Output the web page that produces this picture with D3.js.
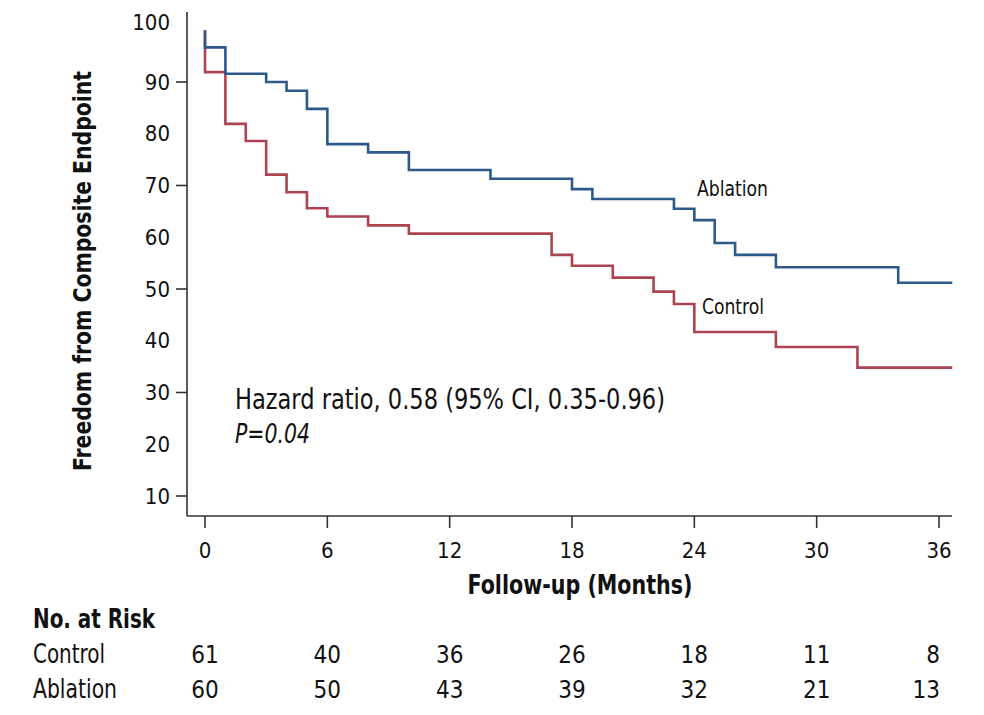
<!DOCTYPE html>
<html>
<head>
<meta charset="utf-8">
<script src="https://cdn.jsdelivr.net/npm/d3@7"></script>
<style>
  body { margin: 0; background: #fff; }
  svg text { font-family: "Liberation Sans Narrow", "DejaVu Sans Condensed", "Roboto", sans-serif; fill: #111; }
</style>
</head>
<body>
<svg id="chart" width="984" height="715"></svg>
<script>
// months at which each curve steps down, and the value right after the step
const controlTimes = [0, 1, 2, 3, 4, 5, 6, 8, 10, 17, 18, 20, 22, 23, 24, 28, 32]
const controlSurv = [91.9, 81.9, 78.6, 72.1, 68.7, 65.6, 64.0, 62.3, 60.7, 56.6, 54.5, 52.2, 49.5, 47.1, 41.7, 38.8, 34.8]
const ablationTimes = [0, 1, 3, 4, 5, 6, 8, 10, 14, 18, 19, 23, 24, 25, 26, 28, 34]
const ablationSurv = [96.7, 91.6, 90.0, 88.3, 84.8, 78.0, 76.4, 73.0, 71.3, 69.3, 67.4, 65.5, 63.3, 58.9, 56.6, 54.2, 51.2]
const lastMonth = 36.65

const xTicks = [0, 6, 12, 18, 24, 30, 36]
const yLabels = [10, 20, 30, 40, 50, 60, 70, 80, 90, 100]
const yTickMarks = [10, 30, 50, 70, 90]

const riskRows = ['Control', 'Ablation']
const controlRisk = [61, 40, 36, 26, 18, 11, 8]
const ablationRisk = [60, 50, 43, 39, 32, 21, 13]

const svg = d3.select('#chart')

const x = d3.scaleLinear().domain([0, 36]).range([205, 939])
const y = d3.scaleLinear().domain([10, 100]).range([496, 30.25])

const plotLeft = 187, plotRight = 952, plotTop = 12, plotBottom = 516

// axes lines
svg.append('line').attr('x1', plotLeft).attr('x2', plotLeft).attr('y1', plotTop).attr('y2', plotBottom)
  .attr('stroke', '#333').attr('stroke-width', 1.6)
svg.append('line').attr('x1', plotLeft).attr('x2', plotRight).attr('y1', plotBottom).attr('y2', plotBottom)
  .attr('stroke', '#333').attr('stroke-width', 1.6)

// y ticks + labels
svg.selectAll('.ytick').data(yTickMarks).join('line')
  .attr('x1', plotLeft - 11).attr('x2', plotLeft)
  .attr('y1', d => y(d)).attr('y2', d => y(d))
  .attr('stroke', '#333').attr('stroke-width', 1.6)

svg.selectAll('.ylab').data(yLabels).join('text')
  .attr('x', 170)
  .attr('y', d => y(d) - (d === 100 ? 8 : 0))
  .attr('dy', '0.35em')
  .attr('text-anchor', 'end')
  .attr('font-size', 22)
  .text(d => d)

// x ticks + labels
svg.selectAll('.xtick').data(xTicks).join('line')
  .attr('x1', d => x(d)).attr('x2', d => x(d))
  .attr('y1', plotBottom).attr('y2', plotBottom + 12)
  .attr('stroke', '#333').attr('stroke-width', 1.6)

svg.selectAll('.xlab').data(xTicks).join('text')
  .attr('x', d => x(d))
  .attr('y', 550)
  .attr('dy', '0.35em')
  .attr('text-anchor', 'middle')
  .attr('font-size', 22)
  .text(d => d)

// axis titles
svg.append('text')
  .attr('transform', 'translate(82,271) rotate(-90)')
  .attr('text-anchor', 'middle').attr('dy', '0.35em')
  .attr('font-size', 25).attr('font-weight', 'bold')
  .attr('textLength', 400).attr('lengthAdjust', 'spacingAndGlyphs')
  .text('Freedom from Composite Endpoint')

svg.append('text')
  .attr('x', 580).attr('y', 585).attr('dy', '0.35em')
  .attr('text-anchor', 'middle')
  .attr('font-size', 26).attr('font-weight', 'bold')
  .attr('textLength', 225).attr('lengthAdjust', 'spacingAndGlyphs')
  .text('Follow-up (Months)')

// KM curves
function steps (times, surv) {
  const pts = [{ t: 0, s: 100 }]
  times.forEach((t, i) => pts.push({ t: t, s: surv[i] }))
  pts.push({ t: lastMonth, s: surv[surv.length - 1] })
  return pts
}

const line = d3.line().x(d => x(d.t)).y(d => y(d.s)).curve(d3.curveStepAfter)

svg.append('path').datum(steps(controlTimes, controlSurv))
  .attr('d', line).attr('fill', 'none')
  .attr('stroke', '#ab4450').attr('stroke-width', 2.6)

svg.append('path').datum(steps(ablationTimes, ablationSurv))
  .attr('d', line).attr('fill', 'none')
  .attr('stroke', '#2d5a88').attr('stroke-width', 2.6)

// curve labels
svg.append('text').attr('x', 697).attr('y', 196)
  .attr('font-size', 22).attr('textLength', 71).attr('lengthAdjust', 'spacingAndGlyphs')
  .text('Ablation')
svg.append('text').attr('x', 702).attr('y', 314)
  .attr('font-size', 22).attr('textLength', 62).attr('lengthAdjust', 'spacingAndGlyphs')
  .text('Control')

// stats annotation
svg.append('text').attr('x', 235).attr('y', 409)
  .attr('font-size', 28).attr('textLength', 430).attr('lengthAdjust', 'spacingAndGlyphs')
  .text('Hazard ratio, 0.58 (95% CI, 0.35-0.96)')
svg.append('text').attr('x', 235).attr('y', 443)
  .attr('font-size', 27).attr('font-style', 'italic')
  .attr('textLength', 75).attr('lengthAdjust', 'spacingAndGlyphs')
  .text('P=0.04')

// number at risk table
svg.append('text').attr('x', 33).attr('y', 628)
  .attr('font-size', 27).attr('font-weight', 'bold')
  .attr('textLength', 122).attr('lengthAdjust', 'spacingAndGlyphs')
  .text('No. at Risk')

const riskData = [controlRisk, ablationRisk]
riskRows.forEach((name, r) => {
  const yy = 663 + r * 35
  svg.append('text').attr('x', 33).attr('y', yy)
    .attr('font-size', 26)
    .attr('textLength', name === 'Control' ? 72 : 84).attr('lengthAdjust', 'spacingAndGlyphs')
    .text(name)
  svg.selectAll('.risk' + r).data(riskData[r]).join('text')
    .attr('x', (d, i) => i === xTicks.length - 1 ? x(xTicks[i]) + 1 : x(xTicks[i]))
    .attr('y', yy)
    .attr('text-anchor', (d, i) => i === xTicks.length - 1 ? 'end' : 'middle')
    .attr('font-size', 24)
    .text(d => d)
})
</script>
</body>
</html>
